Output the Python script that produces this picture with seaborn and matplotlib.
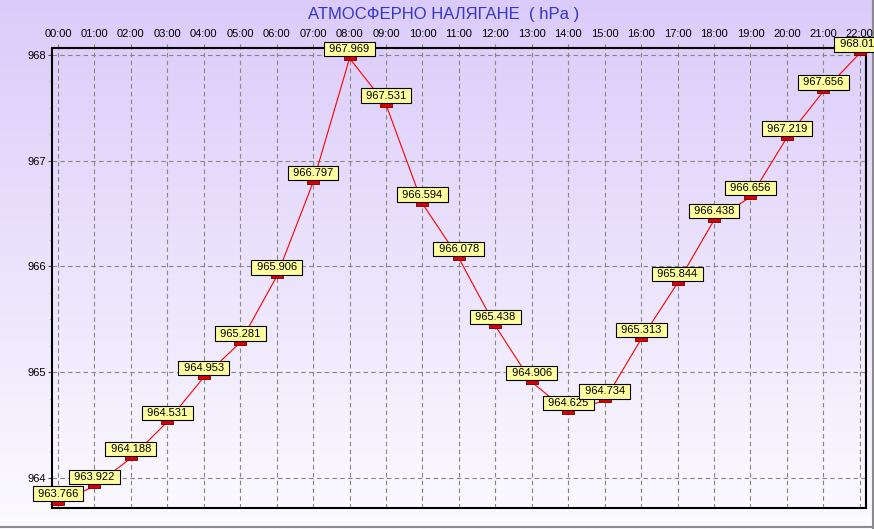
import numpy as np
import pandas as pd
import matplotlib
matplotlib.use('Agg')
import matplotlib.pyplot as plt
import seaborn as sns
from matplotlib.ticker import MultipleLocator

plt.rcParams['font.family'] = ['Liberation Sans', 'DejaVu Sans']

hours = list(range(23))
hour_labels = ['%02d:00' % h for h in hours]
pressure = [963.766, 963.922, 964.188, 964.531, 964.953, 965.281, 965.906,
            966.797, 967.969, 967.531, 966.594, 966.078, 965.438, 964.906,
            964.625, 964.734, 965.313, 965.844, 966.438, 966.656, 967.219,
            967.656, 968.016]
y_ticks = [964, 965, 966, 967, 968]

df = pd.DataFrame({'hour': hours, 'hPa': pressure})

fig = plt.figure(figsize=(8.74, 5.29), dpi=100)

# lavender -> white background
bg = fig.add_axes([0, 0, 1, 1], zorder=-1)
top = np.array([219, 203, 250]) / 255
bot = np.array([252, 251, 255]) / 255
t = np.linspace(0, 1, 256)[:, None]
grad = (top * (1 - t) + bot * t)[:, None, :]
bg.imshow(grad, aspect='auto', extent=[0, 1, 0, 1])
bg.axis('off')
bg.plot([0, 1], [0.003, 0.003], color='#8c8c8c', lw=1.5, transform=bg.transAxes)
bg.plot([0.999, 0.999], [0, 1], color='#8c8c8c', lw=1.5, transform=bg.transAxes)

ax = fig.add_axes([52 / 874, 21 / 529, 814 / 874, 460 / 529])
ax.set_facecolor('none')

rect = [(-1.2, -0.5), (1.2, -0.5), (1.2, 0.5), (-1.2, 0.5), (-1.2, -0.5)]
sns.lineplot(data=df, x='hour', y='hPa', ax=ax, color='#ff0000', lw=0.8,
             marker=rect, markersize=8.6, markerfacecolor='#dd0000',
             markeredgecolor='#700000', markeredgewidth=0.6, zorder=3)

for h, v in zip(hours, pressure):
    ax.annotate(' %.3f ' % v, xy=(h, v), xytext=(0, 9), textcoords='offset pixels',
                ha='center', va='center', fontsize=8, color='black', zorder=5,
                bbox=dict(boxstyle='square,pad=0.2', fc='#ffffa0', ec='black', lw=0.8))

ax.set_xlim(-0.165, 22.17)
ax.set_ylim(963.716, 968.066)
ax.set_xticks(hours)
ax.set_xticklabels(hour_labels)
ax.set_yticks(y_ticks)
ax.set_yticklabels([str(v) for v in y_ticks])
ax.yaxis.set_minor_locator(MultipleLocator(0.25))
ax.xaxis.tick_top()
ax.tick_params(axis='x', which='major', labelsize=8, length=3, pad=3.5, color='#808080')
ax.tick_params(axis='y', which='major', labelsize=8, length=3, pad=1.5, color='#505050')
ax.tick_params(axis='y', which='minor', length=1.5, color='#505050')
ax.set_xlabel('')
ax.set_ylabel('')

ax.grid(True, which='major', color='#858585', ls=(0, (4, 3)), lw=0.8)
for s in ax.spines.values():
    s.set_color('black')
    s.set_linewidth(1.5)

fig.text(443.6 / 874, 1 - 15 / 529, 'АТМОСФЕРНО НАЛЯГАНЕ  ( hPa )', ha='center',
         va='center', fontsize=12, color='#3535c8')

fig.savefig('out.png', dpi=100)
